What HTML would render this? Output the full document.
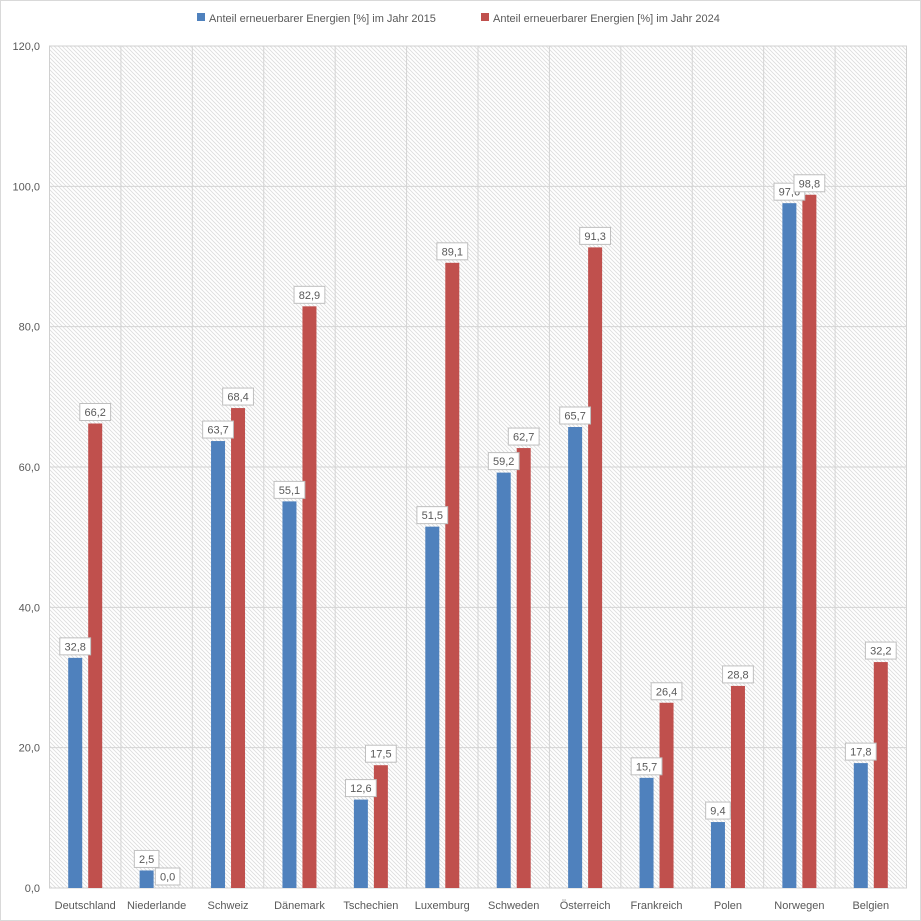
<!DOCTYPE html><html><head><meta charset="utf-8"><style>body{margin:0;background:#fff}svg{display:block;font-family:"Liberation Sans",sans-serif}</style></head><body>
<svg width="921" height="921" xmlns="http://www.w3.org/2000/svg">
<defs><pattern id="h" width="4" height="4" patternUnits="userSpaceOnUse"><rect width="4" height="4" fill="#fff"/><path d="M-1,-1 L5,5 M-1,3 L1,5 M3,-1 L5,1" stroke="#dcdcdc" stroke-width="0.8"/></pattern></defs>
<rect x="0.5" y="0.5" width="920" height="920" fill="#fff" stroke="#d9d9d9"/>
<rect x="49.5" y="46" width="857" height="842" fill="url(#h)" stroke="#d0d0d0"/>
<g stroke="#d4d4d4" id="g"></g>
<g id="b"></g>
<g font-size="11" fill="#595959" id="t"></g>
<rect x="197" y="13" width="8" height="8" fill="#4f81bd"/><text x="209" y="22" font-size="11" fill="#595959">Anteil erneuerbarer Energien [%] im Jahr 2015</text>
<rect x="481" y="13" width="8" height="8" fill="#c0504d"/><text x="493" y="22" font-size="11" fill="#595959">Anteil erneuerbarer Energien [%] im Jahr 2024</text>
<script>
var ns="http://www.w3.org/2000/svg";
function el(p,n,a,t){var e=document.createElementNS(ns,n);for(var k in a)e.setAttribute(k,a[k]);if(t!=null)e.textContent=t;document.getElementById(p).appendChild(e);}
var cats=["Deutschland","Niederlande","Schweiz","Dänemark","Tschechien","Luxemburg","Schweden","Österreich","Frankreich","Polen","Norwegen","Belgien"];
var a=[32.8,2.5,63.7,55.1,12.6,51.5,59.2,65.7,15.7,9.4,97.6,17.8];
var b=[66.2,0.0,68.4,82.9,17.5,89.1,62.7,91.3,26.4,28.8,98.8,32.2];
var L=49.5,R=906.5,T=46,B=888,w=(R-L)/12;
function Y(v){return B-v*(B-T)/120;}
for(var i=1;i<6;i++)el("g","line",{x1:L,x2:R,y1:Y(i*20),y2:Y(i*20)});
for(var i=1;i<12;i++)el("g","line",{x1:L+i*w,x2:L+i*w,y1:T,y2:B});
for(var i=0;i<=6;i++)el("t","text",{x:40,y:Y(i*20)+4,"text-anchor":"end"},(i*20).toFixed(1).replace(".",","));
function lab(cx,yb,s){var wd=s.length*6.2+6;el("b","rect",{x:cx-wd/2,y:yb-17,width:wd,height:17,fill:"#fff",stroke:"#bfbfbf"});el("b","text",{x:cx,y:yb-4.5,"text-anchor":"middle","font-size":"11",fill:"#595959"},s);}
for(var i=0;i<12;i++){var c=L+w*i+w/2;
el("t","text",{x:c,y:909,"text-anchor":"middle"},cats[i]);
el("b","rect",{x:c-17,y:Y(a[i]),width:14,height:B-Y(a[i]),fill:"#4f81bd"});
el("b","rect",{x:c+3,y:Y(b[i]),width:14,height:B-Y(b[i]),fill:"#c0504d"});}
for(var i=0;i<12;i++){var c=L+w*i+w/2;
lab(c-10,Y(a[i])-3,a[i].toFixed(1).replace(".",","));
if(b[i]==0)lab(c+11,Y(0)-3,"0,0");else lab(c+10,Y(b[i])-3,b[i].toFixed(1).replace(".",","));}
</script>
</svg></body></html>
